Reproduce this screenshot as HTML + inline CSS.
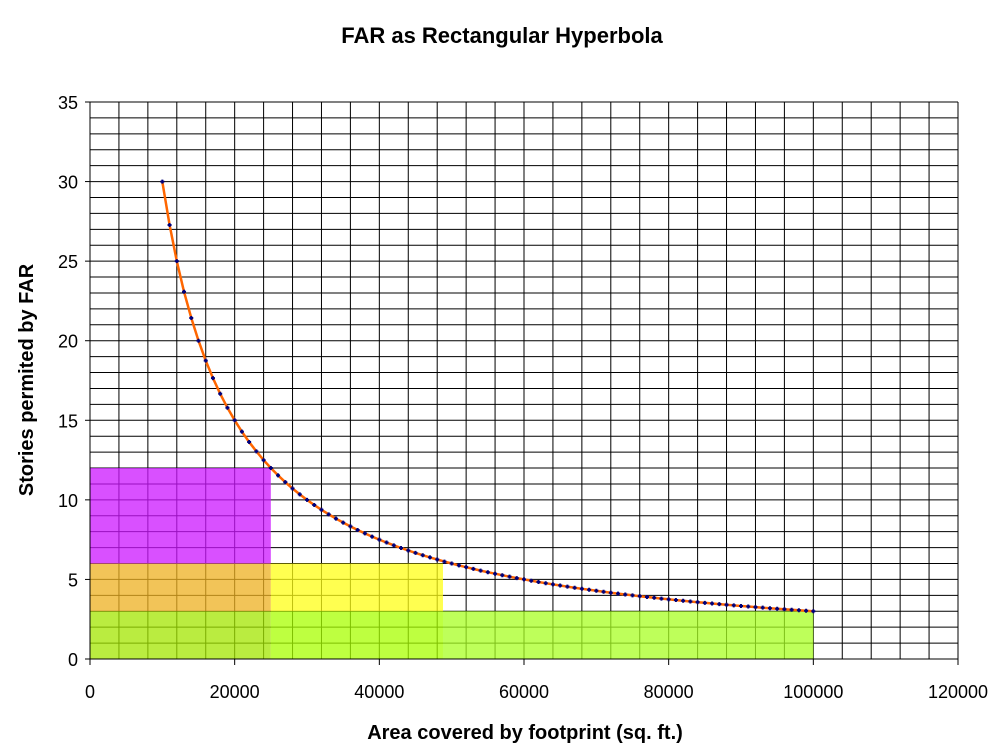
<!DOCTYPE html>
<html><head><meta charset="utf-8"><style>body{margin:0;background:#fff}svg{display:block}</style></head><body>
<svg id="s" width="1004" height="756" xmlns="http://www.w3.org/2000/svg" font-family="Liberation Sans, Arial, sans-serif">
<text x="502" y="43" text-anchor="middle" font-size="22" font-weight="bold">FAR as Rectangular Hyperbola</text>
<g id="g"></g>
<text x="525" y="739" text-anchor="middle" font-size="20" font-weight="bold">Area covered by footprint (sq. ft.)</text>
<text transform="translate(33,380) rotate(-90)" text-anchor="middle" font-size="20" font-weight="bold">Stories permited by FAR</text>
</svg>
<script>
var X=function(v){return 90+v*868/120000},Y=function(v){return 659-v*557/35};
var h='';
for(var i=0;i<=30;i++){var x=X(i*4000);h+='<line x1="'+x+'" y1="102" x2="'+x+'" y2="659" stroke="#000" stroke-width="1"/>';}
for(var j=0;j<=35;j++){var y=Y(j);h+='<line x1="90" y1="'+y+'" x2="958" y2="'+y+'" stroke="#000" stroke-width="1"/>';}
function R(x0,x1,y0,y1,c){h+='<rect x="'+X(x0)+'" y="'+Y(y1)+'" width="'+(X(x1)-X(x0))+'" height="'+(Y(y0)-Y(y1))+'" fill="'+c+'" fill-opacity="0.75"/>';}
R(0,25000,6,12,'rgb(204,21,255)');R(0,25000,3,6,'rgb(238,176,32)');R(25000,48800,3,6,'rgb(255,255,22)');
R(0,25000,0,3,'rgb(163,229,0)');R(25000,48800,0,3,'rgb(168,255,0)');R(48800,100000,0,3,'rgb(168,255,35)');
h+='<line x1="90" y1="102" x2="90" y2="659" stroke="#000"/><line x1="90" y1="659" x2="958" y2="659" stroke="#000"/>';
for(var j=0;j<=7;j++){var y=Y(j*5);h+='<line x1="85" y1="'+y+'" x2="90" y2="'+y+'" stroke="#000"/><text x="78" y="'+(y+7)+'" text-anchor="end" font-size="18">'+(j*5)+'</text>';}
for(var i=0;i<=6;i++){var x=X(i*20000);h+='<line x1="'+x+'" y1="659" x2="'+x+'" y2="665" stroke="#000"/><text x="'+x+'" y="698" text-anchor="middle" font-size="18">'+(i*20000)+'</text>';}
var p=[],m='';for(var v=10000;v<=100000;v+=1000){var x=X(v),y=Y(300000/v);p.push(x.toFixed(1)+','+y.toFixed(1));m+='<path d="M'+(x-2)+' '+y+'h4M'+x+' '+(y-2)+'v4" stroke="#00007a" stroke-width="2"/>';}
h+='<polyline points="'+p.join(' ')+'" fill="none" stroke="#ff6600" stroke-width="2.5"/>'+m;
document.getElementById('g').innerHTML=h;
</script>
</body></html>
